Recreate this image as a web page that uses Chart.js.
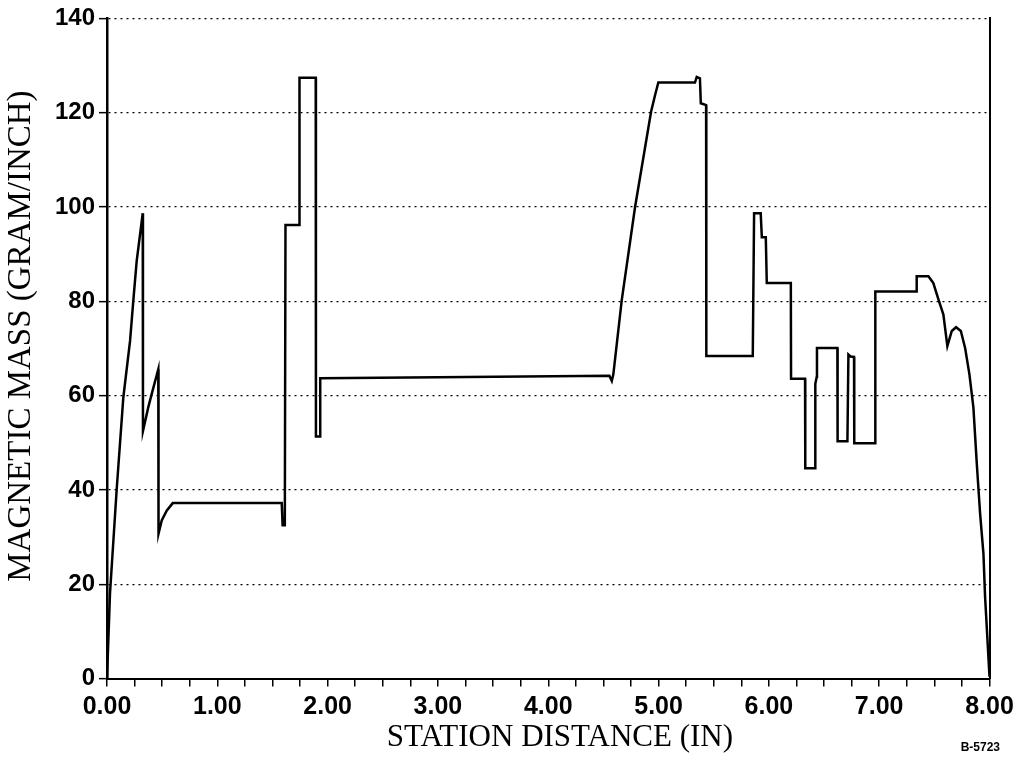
<!DOCTYPE html>
<html>
<head>
<meta charset="utf-8">
<title>Magnetic mass vs station distance</title>
<script src="https://cdn.jsdelivr.net/npm/chart.js@4.4.1/dist/chart.umd.min.js"></script>
<style>
  html, body { margin: 0; padding: 0; background: #fff; }
</style>
</head>
<body>
<canvas id="grafico" width="1023" height="761"></canvas>
<script>
// Datos
const stationIn = [
  0, 0.027, 0.088, 0.148, 0.209, 0.238, 0.269, 0.324, 0.326, 0.374, 0.405, 0.465, 0.467,
  0.496, 0.541, 0.596, 1.584, 1.592, 1.612, 1.618, 1.743, 1.745, 1.892, 1.894, 1.931, 1.933,
  3.0, 4.554, 4.576, 4.59, 4.666, 4.787, 4.932, 4.968, 4.998, 5.33, 5.346, 5.375, 5.383,
  5.431, 5.433, 5.854, 5.866, 5.926, 5.936, 5.972, 5.981, 6.199, 6.201, 6.328, 6.33,
  6.419, 6.421, 6.434, 6.436, 6.621, 6.623, 6.712, 6.721, 6.74, 6.772, 6.774, 6.963, 6.965,
  7.334, 7.34, 7.446, 7.49, 7.537, 7.582, 7.618, 7.658, 7.697, 7.74, 7.779, 7.818, 7.854,
  7.885, 7.915, 7.945, 7.96, 8.0
];
const massGpi = [
  0, 18, 40.2, 59.6, 71.6, 80, 88.5, 98.7, 52.5, 57.5, 60.3, 65.6, 30.7,
  33.5, 35.6, 37.2, 37.2, 32.5, 32.5, 96.2, 96.2, 127.4, 127.4, 51.3, 51.3, 63.7,
  63.9, 64.2, 63.1, 64.5, 80.2, 100, 120.2, 123.7, 126.4, 126.4, 127.6, 127.3, 122,
  121.6, 68.4, 68.4, 98.7, 98.7, 93.6, 93.6, 83.9, 83.9, 63.6, 63.6, 44.6,
  44.6, 62.5, 64, 70.1, 70.1, 50.3, 50.3, 68.7, 68.3, 68.2, 49.9, 49.9, 82.1,
  82.1, 85.3, 85.3, 83.9, 80.4, 77.2, 70.5, 73.7, 74.5, 73.7, 70.1, 64.5, 57.5,
  45.5, 34.9, 26.5, 17.3, 0.4
];
const xLabels = ['0.00', '1.00', '2.00', '3.00', '4.00', '5.00', '6.00', '7.00', '8.00'];
const yTicks = [0, 20, 40, 60, 80, 100, 120, 140];

const puntos = stationIn.map((x, i) => ({ x: x, y: massGpi[i] }));

// Etiqueta pequeña abajo a la derecha
const etiquetaFigura = {
  id: 'etiquetaFigura',
  afterDraw(chart) {
    const ctx = chart.ctx;
    ctx.save();
    ctx.font = 'bold 12px "Liberation Sans", Arial, sans-serif';
    ctx.fillStyle = '#000';
    ctx.textAlign = 'right';
    ctx.textBaseline = 'middle';
    ctx.fillText('B-5723', 1000, 748);
    ctx.restore();
  }
};

new Chart(document.getElementById('grafico').getContext('2d'), {
  type: 'scatter',
  data: {
    datasets: [{
      data: puntos,
      showLine: true,
      borderColor: '#000',
      borderWidth: 2.5,
      pointRadius: 0,
      tension: 0,
      fill: false
    }]
  },
  options: {
    responsive: false,
    animation: false,
    layout: { padding: { top: 17, left: 0, right: 0, bottom: 0 } },
    plugins: { legend: { display: false }, tooltip: { enabled: false } },
    scales: {
      x: {
        type: 'linear',
        min: 0,
        max: 8,
        afterFit: s => { s.height = 82.5; },
        ticks: {
          stepSize: 0.25,
          autoSkip: false,
          maxRotation: 0,
          padding: 6,
          color: '#000',
          font: { family: '"Liberation Sans", Arial, sans-serif', size: 25, weight: 'bold' },
          callback: v => (Math.abs(v - Math.round(v)) < 1e-6 ? xLabels[Math.round(v)] : '')
        },
        grid: { drawOnChartArea: false, drawTicks: true, tickLength: 8, color: '#000', lineWidth: 1.5 },
        border: { display: true, color: '#000', width: 2 },
        title: {
          display: true,
          // espacios iniciales para desplazar el título como en el original
          text: '   STATION DISTANCE (IN)',
          color: '#000',
          font: { family: '"Liberation Serif", "Times New Roman", serif', size: 31 },
          padding: { top: 0, bottom: 5 }
        }
      },
      y: {
        min: 0,
        max: 140,
        afterFit: s => { s.width = 107; },
        afterBuildTicks: s => { s.ticks = yTicks.map(v => ({ value: v })); },
        ticks: {
          padding: 4,
          color: '#000',
          font: { family: '"Liberation Sans", Arial, sans-serif', size: 24, weight: 'bold' }
        },
        grid: { color: '#000', lineWidth: 1.3, tickLength: 8, tickWidth: 1.5, tickBorderDash: [] },
        border: { display: true, color: '#000', width: 2.5, dash: [2, 4] },
        title: {
          display: true,
          text: '   MAGNETIC MASS (GRAM/INCH)',
          color: '#000',
          font: { family: '"Liberation Serif", "Times New Roman", serif', size: 33 },
          padding: { top: 2, bottom: 0 }
        }
      },
      y2: {
        position: 'right',
        min: 0,
        max: 140,
        afterFit: s => { s.width = 33.5; },
        ticks: { display: false },
        grid: { display: false },
        border: { display: true, color: '#000', width: 2 }
      }
    }
  },
  plugins: [etiquetaFigura]
});
</script>
</body>
</html>
